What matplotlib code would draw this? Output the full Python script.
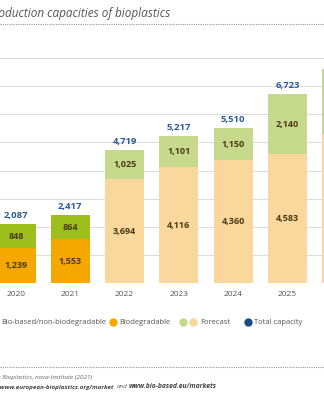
import matplotlib
matplotlib.use("Agg")
import matplotlib.pyplot as plt
from matplotlib.lines import Line2D

plt.rcParams['font.family'] = ['Open Sans', 'DejaVu Sans']

years = ["2020", "2021", "2022", "2023", "2024", "2025", "2026"]
biodegradable = [1239, 1553, 3694, 4116, 4360, 4583, 5297]
non_biodegradable = [848, 864, 1025, 1101, 1150, 2140, 2296]
totals = [2087, 2417, 4719, 5217, 5510, 6723, 7593]
is_forecast = [False, False, True, True, True, True, True]

C_ORANGE = "#F5A900"
C_GREEN = "#9DBE1C"
C_LORANGE = "#FAD79C"
C_LGREEN = "#C6D98C"
C_BLUE = "#2A5B95"
C_DARK = "#4A3C12"
C_GRID = "#DDDDDD"

W, H = 324, 400
fig = plt.figure(figsize=(W / 100, H / 100), dpi=100)

def fx(px):
    return px / W

def fy(py):
    return 1 - py / H

# axes: baseline y=283px, 8000 at y=58px; first bar center x=16px, spacing 54.3px
base_px, top_px = 283, 58
x0_px, step = 16, 54.3
ax = fig.add_axes([0, fy(base_px), 1, (base_px - top_px) / H])
ax.set_ylim(0, 8000)
xmax = (W - x0_px) / step
ax.set_xlim(-x0_px / step, xmax)
for s in ax.spines.values():
    s.set_visible(False)
ax.set_xticks([])
ax.set_yticks([])
for g in range(0, 8001, 1000):
    ax.axhline(g, color=C_GRID, lw=0.8, zorder=0)

xs = list(range(len(years)))
bw = 0.72
for i in xs:
    lo = C_LORANGE if is_forecast[i] else C_ORANGE
    hi = C_LGREEN if is_forecast[i] else C_GREEN
    ax.bar(i, biodegradable[i], width=bw, color=lo, zorder=2)
    ax.bar(i, non_biodegradable[i], bottom=biodegradable[i], width=bw, color=hi, zorder=2)
    if i > xmax - 0.3:
        continue  # labels of this bar lie outside the visible crop
    ax.text(i, biodegradable[i] / 2, f"{biodegradable[i]:,}", ha="center", va="center",
            fontsize=6.5, fontweight="bold", color=C_DARK, zorder=3)
    ax.text(i, biodegradable[i] + non_biodegradable[i] / 2, f"{non_biodegradable[i]:,}",
            ha="center", va="center", fontsize=6.5, fontweight="bold", color=C_DARK, zorder=3)
    ax.text(i, totals[i] + 150, f"{totals[i]:,}", ha="center", va="bottom",
            fontsize=6.8, fontweight="bold", color=C_BLUE, zorder=3)
    ax.text(i, -300, years[i], ha="center", va="top", fontsize=6, color="#555555",
            clip_on=False)

# title
fig.text(fx(170), fy(14), "Global production capacities of bioplastics", ha="right",
         va="center", fontsize=8.5, style="italic", color="#555555")
fig.add_artist(Line2D([0, 1], [fy(24), fy(24)], color="#999999", lw=0.8,
                      linestyle=(0, (1, 1))))

# legend
ly = fy(322)
LFS = 5.5
fig.text(fx(106), ly, "Bio-based/non-biodegradable", ha="right", va="center",
         fontsize=LFS, color="#555555")
fig.add_artist(Line2D([fx(113)], [ly], marker="o", ms=5, color=C_ORANGE, lw=0))
fig.text(fx(119), ly, "Biodegradable", ha="left", va="center", fontsize=LFS, color="#555555")
fig.add_artist(Line2D([fx(183)], [ly], marker="o", ms=5, color=C_LGREEN, lw=0))
fig.add_artist(Line2D([fx(193)], [ly], marker="o", ms=5, color=C_LORANGE, lw=0))
fig.text(fx(200), ly, "Forecast", ha="left", va="center", fontsize=LFS, color="#555555")
fig.add_artist(Line2D([fx(248)], [ly], marker="o", ms=5, color="#1F4A86", lw=0))
fig.text(fx(254), ly, "Total capacity", ha="left", va="center", fontsize=LFS, color="#555555")

# source
fig.add_artist(Line2D([0, 1], [fy(367), fy(367)], color="#999999", lw=0.8,
                      linestyle=(0, (1, 1))))
fig.text(fx(92), fy(378), "Source: European Bioplastics, nova-Institute (2021)", ha="right",
         va="center", fontsize=4.5, style="italic", color="#666666")
fig.text(fx(114), fy(387), "More information: www.european-bioplastics.org/market", ha="right",
         va="center", fontsize=4.5, style="italic", fontweight="bold", color="#444444")
fig.text(fx(116.5), fy(387), "and", ha="left", va="center",
         fontsize=4.5, style="italic", color="#666666")
fig.text(fx(129), fy(387), "www.bio-based.eu/markets", ha="left", va="center",
         fontsize=4.9, style="italic", fontweight="bold", color="#444444")

fig.savefig("out.png", dpi=100)
